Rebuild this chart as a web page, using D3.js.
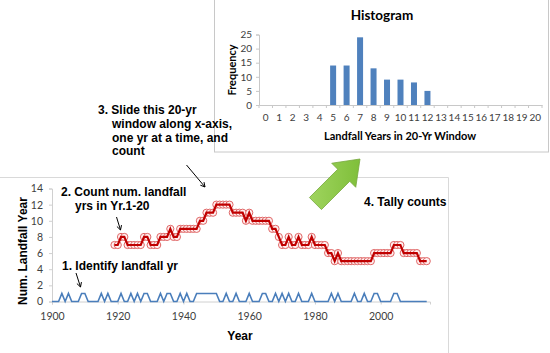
<!DOCTYPE html>
<html>
<head>
<meta charset="utf-8" />
<title>Landfall years - 20 yr window</title>
<style>
body { margin: 0; background: #fff; }
svg { display: block; }
.tick text { font-family: Lato, "Open Sans", sans-serif; fill: #404040; }
.note { font-family: "Liberation Sans", Arial, sans-serif; font-weight: bold; font-size: 12px; fill: #000; }
</style>
</head>
<body>
<svg id="svg" width="550" height="353"></svg>
<script src="https://cdn.jsdelivr.net/npm/d3@7"></script>
<script>
// landfall (1) or not (0), one value per year from 1900
var startYear = 1900;
var landfall = [
  0,0,0,1,0,1,0,0,0,1,
  1,0,0,0,0,1,0,1,0,0,
  0,1,0,0,1,0,1,0,1,1,
  0,0,0,1,0,1,1,0,0,1,
  0,1,0,0,1,1,1,1,1,1,
  1,0,0,1,0,0,1,0,0,0,
  1,0,0,0,1,1,0,0,1,0,
  1,0,1,0,0,1,0,0,0,1,
  0,0,0,0,0,1,0,1,0,0,
  0,0,1,0,0,1,0,0,1,1,
  0,0,0,0,1,1,0,0,0,0,
  0,0,0,0,0
];
// count of landfall years in the trailing 20 yr window, from 1919
var countStart = 1919;
var counts = [
  7,7,8,8,7,7,7,7,7,8,8,
  7,7,7,8,8,8,9,8,8,9,
  9,9,9,9,9,10,10,11,11,11,
  12,12,12,12,12,11,11,11,11,10,
  11,10,10,10,10,10,10,9,9,8,
  7,7,8,7,7,8,7,7,7,8,
  7,7,7,7,6,6,5,6,5,5,
  5,5,5,5,5,5,5,5,6,6,
  6,6,6,6,7,7,7,6,6,6,
  6,6,5,5,5
];
// histogram
var bins = d3.range(0, 21);
var freq = [0,0,0,0,0,14,14,24,13,9,9,8,5,0,0,0,0,0,0,0,0];
var xTicks = [1900, 1920, 1940, 1960, 1980, 2000];
var yTicks = [0, 2, 4, 6, 8, 10, 12, 14];
var hTicks = [0, 5, 10, 15, 20, 25];

var svg = d3.select("#svg");

// ---------- main chart ----------
var main = svg.append("g");
main.append("path")
  .attr("d", "M0,177.5H448.5V353")
  .attr("fill", "none").attr("stroke", "#d9d9d9");

var x = d3.scaleLinear().domain([1900, 2015]).range([52, 430]);
var y = d3.scaleLinear().domain([0, 14]).range([301.5, 188.5]);

var xAxis = main.append("g")
  .attr("transform", "translate(0," + y(0) + ")")
  .call(d3.axisBottom(x).tickValues(xTicks).tickFormat(d3.format("d")).tickSize(3).tickPadding(8));
var yAxis = main.append("g")
  .attr("transform", "translate(" + x(1900) + ",0)")
  .call(d3.axisLeft(y).tickValues(yTicks).tickSize(3).tickPadding(6));
[xAxis, yAxis].forEach(function(a) {
  a.select(".domain").attr("stroke", "#d0d0d0");
  a.selectAll(".tick line").attr("stroke", "#d0d0d0");
  a.selectAll(".tick text").attr("font-size", 10.5);
});

main.append("text")
  .attr("class", "note").attr("font-size", 16)
  .attr("x", 240).attr("y", 340).attr("text-anchor", "middle")
  .text("Year");
main.append("text")
  .attr("class", "note").attr("font-size", 15)
  .attr("transform", "translate(27,251) rotate(-90)")
  .attr("text-anchor", "middle")
  .text("Num. Landfall Year");

var blueLine = d3.line()
  .x(function(d, i) { return x(startYear + i); })
  .y(function(d) { return y(d); });
main.append("path")
  .datum(landfall)
  .attr("d", blueLine)
  .attr("fill", "none")
  .attr("stroke", "#4a7ebb")
  .attr("stroke-width", 1.6);

main.selectAll("circle.c")
  .data(counts)
  .enter().append("circle")
  .attr("class", "c")
  .attr("cx", function(d, i) { return x(countStart + i); })
  .attr("cy", function(d) { return y(d); })
  .attr("r", 3.6)
  .attr("fill", "#fff0f0")
  .attr("stroke", "#e06666")
  .attr("stroke-width", 1);

var redLine = d3.line()
  .x(function(d, i) { return x(countStart + i); })
  .y(function(d) { return y(d); });
main.append("path")
  .datum(counts)
  .attr("d", redLine)
  .attr("fill", "none")
  .attr("stroke", "#c00000")
  .attr("stroke-width", 2.2);

// ---------- histogram ----------
var hist = svg.append("g");
hist.append("rect")
  .attr("x", 214.5).attr("y", -1).attr("width", 334).attr("height", 153)
  .attr("fill", "#fff").attr("stroke", "#c8c8c8");

var hx = d3.scaleBand().domain(bins).range([259, 542]);
var hy = d3.scaleLinear().domain([0, 25]).range([105, 34.5]);

hist.selectAll("rect.bar")
  .data(freq)
  .enter().append("rect")
  .attr("class", "bar")
  .attr("x", function(d, i) { return hx(bins[i]) + hx.bandwidth() / 2 - 3; })
  .attr("width", 6)
  .attr("y", function(d) { return hy(d); })
  .attr("height", function(d) { return hy(0) - hy(d); })
  .attr("fill", "#4f81bd");

var hxAxis = hist.append("g")
  .attr("transform", "translate(0," + hy(0) + ")")
  .call(d3.axisBottom(hx).tickSize(0).tickPadding(9));
hxAxis.selectAll(".tick text").attr("font-size", 10);
// tick marks between categories
hxAxis.selectAll("line.sep")
  .data(d3.range(0, 22))
  .enter().append("line")
  .attr("class", "sep")
  .attr("x1", function(d) { return 259 + d * hx.step(); })
  .attr("x2", function(d) { return 259 + d * hx.step(); })
  .attr("y1", 0).attr("y2", 3)
  .attr("stroke", "#c8c8c8");
var hyAxis = hist.append("g")
  .attr("transform", "translate(259,0)")
  .call(d3.axisLeft(hy).tickValues(hTicks).tickSize(3).tickPadding(4));
hyAxis.selectAll(".tick text").attr("font-size", 10);
[hxAxis, hyAxis].forEach(function(a) {
  a.select(".domain").attr("stroke", "#c8c8c8");
  a.selectAll(".tick line").attr("stroke", "#c8c8c8");
});

hist.append("text")
  .attr("x", 382).attr("y", 20).attr("text-anchor", "middle")
  .attr("font-family", "Lato, sans-serif").attr("font-weight", "bold").attr("font-size", 13.5)
  .text("Histogram");
hist.append("text")
  .attr("x", 400).attr("y", 140).attr("text-anchor", "middle")
  .attr("font-family", "Lato, sans-serif").attr("font-weight", "bold").attr("font-size", 11)
  .text("Landfall Years in 20-Yr Window");
hist.append("text")
  .attr("transform", "translate(236,70) rotate(-90)").attr("text-anchor", "middle")
  .attr("font-family", "Lato, sans-serif").attr("font-weight", "bold").attr("font-size", 11)
  .text("Frequency");

// ---------- notes and arrows ----------
var notes = [
  { t: "1. Identify landfall yr", x: 62, y: 270 },
  { t: "2. Count num. landfall", x: 61, y: 196 },
  { t: "yrs in Yr.1-20", x: 75, y: 209.5 },
  { t: "3. Slide this 20-yr", x: 98, y: 113.5 },
  { t: "window along x-axis,", x: 112, y: 127.5 },
  { t: "one yr at a time, and", x: 112, y: 141.5 },
  { t: "count", x: 112, y: 155 },
  { t: "4. Tally counts", x: 364, y: 206 }
];
svg.selectAll("text.n")
  .data(notes)
  .enter().append("text")
  .attr("class", "note")
  .attr("x", function(d) { return d.x; })
  .attr("y", function(d) { return d.y; })
  .text(function(d) { return d.t; });

var arrows = [
  [76, 273, 80.5, 287],
  [116.5, 217, 120.5, 230],
  [186.5, 165, 205, 187]
];
arrows.forEach(function(a) {
  var ang = Math.atan2(a[3] - a[1], a[2] - a[0]);
  svg.append("line")
    .attr("x1", a[0]).attr("y1", a[1]).attr("x2", a[2]).attr("y2", a[3])
    .attr("stroke", "#000").attr("stroke-width", 1);
  var l = 5, w = 0.5;
  var p1 = [a[2] - l * Math.cos(ang - w), a[3] - l * Math.sin(ang - w)];
  var p2 = [a[2] - l * Math.cos(ang + w), a[3] - l * Math.sin(ang + w)];
  svg.append("path")
    .attr("d", "M" + p1 + "L" + [a[2], a[3]] + "L" + p2)
    .attr("fill", "none").attr("stroke", "#000").attr("stroke-width", 1);
});

// green block arrow pointing up-right
var defs = svg.append("defs");
var grad = defs.append("linearGradient").attr("id", "gr")
  .attr("x1", "0").attr("y1", "0").attr("x2", "1").attr("y2", "0");
grad.append("stop").attr("offset", "0").attr("stop-color", "#9fd45e");
grad.append("stop").attr("offset", "1").attr("stop-color", "#7fbf3a");
var tip = [360, 159], hl = 23, hw = 17, sw = 8.5, len = 63;
var pts = [
  [0, 0], [-hl, hw], [-hl, sw], [-len, sw], [-len, -sw], [-hl, -sw], [-hl, -hw]
];
var c = Math.SQRT1_2;
var shape = pts.map(function(p) {
  // axis along (1,-1), normal along (1,1)
  return [tip[0] + p[0] * c + p[1] * c, tip[1] - p[0] * c + p[1] * c];
});
svg.append("path")
  .attr("d", "M" + shape.join("L") + "Z")
  .attr("fill", "url(#gr)")
  .attr("stroke", "#76a83c").attr("stroke-width", 0.8);
</script>
</body>
</html>
